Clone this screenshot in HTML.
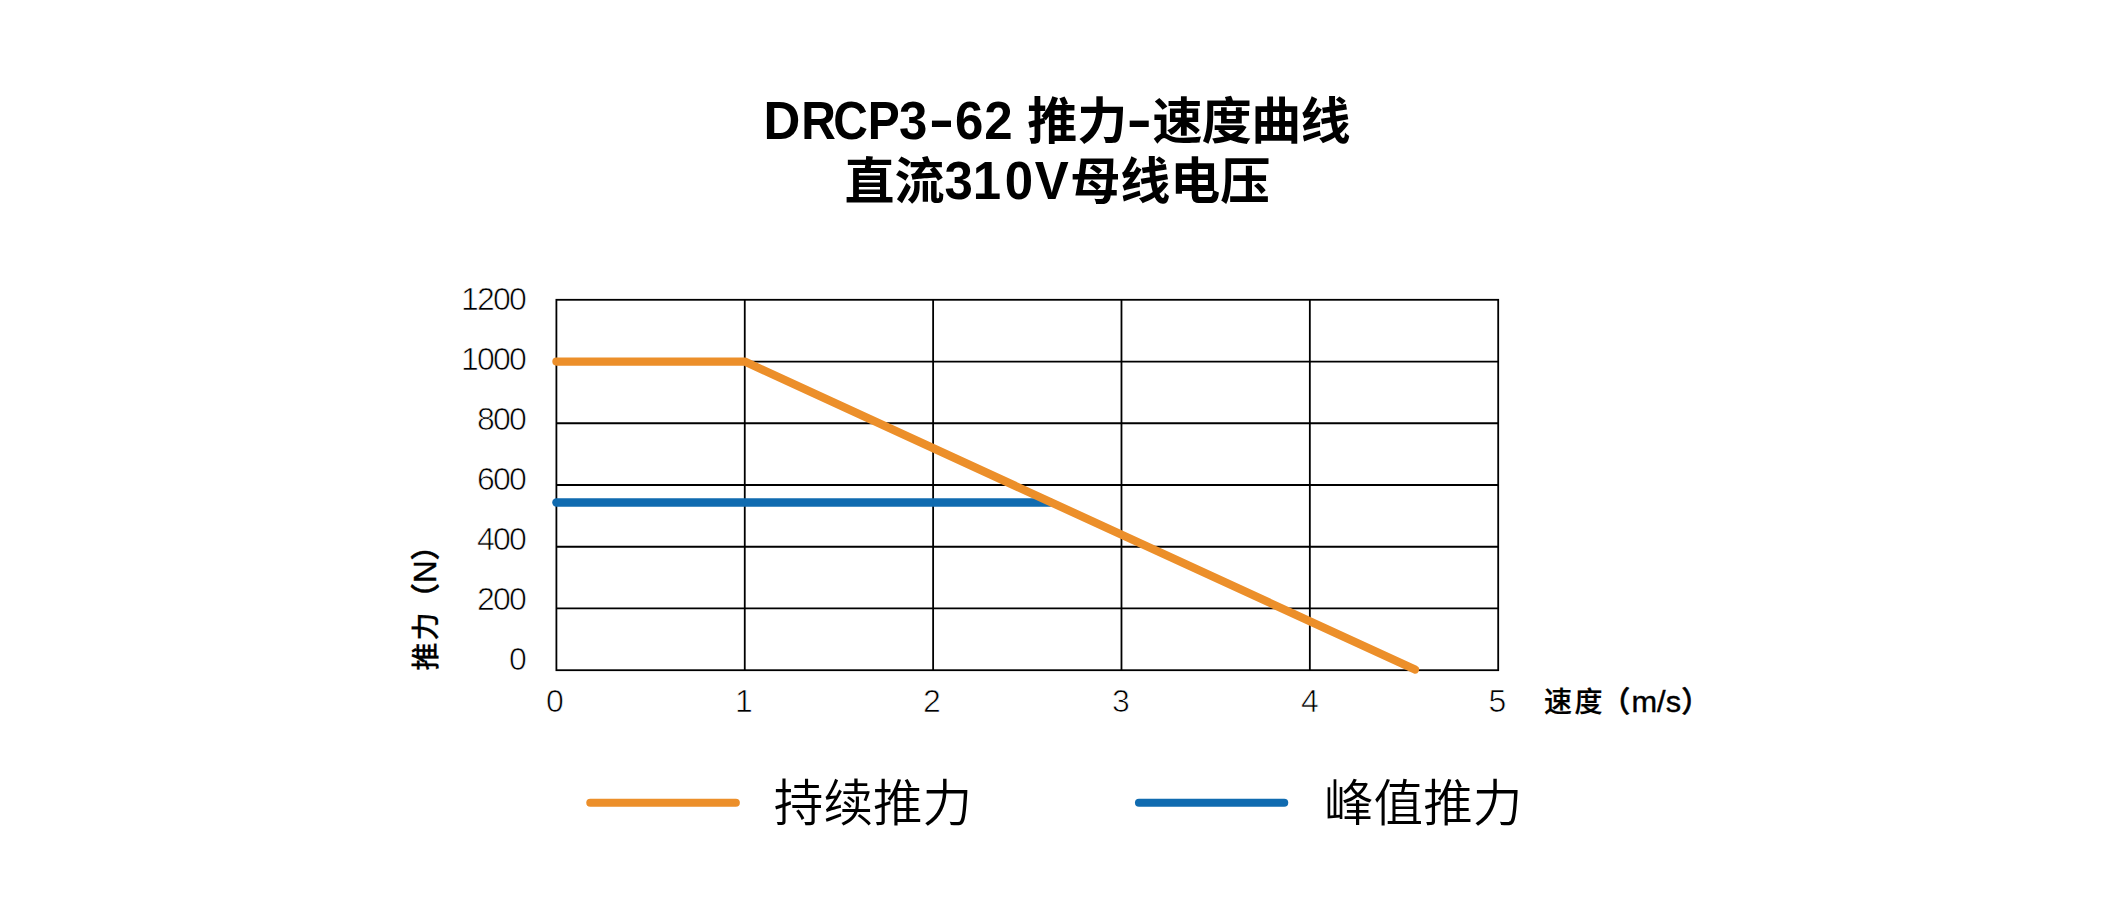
<!DOCTYPE html>
<html lang="zh-CN"><head><meta charset="utf-8"><title>DRCP3-62 推力-速度曲线</title>
<style>html,body{margin:0;padding:0;background:#fff;}body{width:2115px;height:907px;overflow:hidden;}svg{display:block;}text{font-family:"Liberation Sans", "Noto Sans CJK SC", sans-serif;fill:#000;}.t{font-weight:700;font-size:50px;}.u{font-size:53px;}.n{font-size:32px;font-weight:400;stroke:#fff;stroke-width:0.7px;}.a{font-size:28px;font-weight:500;stroke:#000;stroke-width:0.2px;}.p{font-size:29px;stroke-width:0.6px;}.b{font-size:29px;font-weight:400;stroke:#000;stroke-width:0.4px;}.c{font-size:30.5px;}.l{font-size:49.6px;font-weight:350;}</style></head><body>
<svg width="2115" height="907" viewBox="0 0 2115 907">
<rect x="0" y="0" width="2115" height="907" fill="#ffffff"/>
<text class="t" y="139"><tspan class="u" x="763.39" textLength="36.82" lengthAdjust="spacingAndGlyphs">D</tspan><tspan class="u" x="801.28" textLength="34.64" lengthAdjust="spacingAndGlyphs">R</tspan><tspan class="u" x="833.18" textLength="34.64" lengthAdjust="spacingAndGlyphs">C</tspan><tspan class="u" x="867.80" textLength="31.99" lengthAdjust="spacingAndGlyphs">P</tspan><tspan class="u" x="899.07" textLength="28.36" lengthAdjust="spacingAndGlyphs">3</tspan><tspan class="u" x="929.00" y="137.80" textLength="25.00" lengthAdjust="spacingAndGlyphs">-</tspan><tspan class="u" x="955.02" y="139.00" textLength="28.36" lengthAdjust="spacingAndGlyphs">6</tspan><tspan class="u" x="984.37" textLength="28.36" lengthAdjust="spacingAndGlyphs">2</tspan><tspan> </tspan><tspan x="1027.20" y="139.00">推力</tspan><tspan class="u" x="1126.80" y="137.80" textLength="25.00" lengthAdjust="spacingAndGlyphs">-</tspan><tspan x="1152.50" y="139.00" textLength="198.00" lengthAdjust="spacing">速度曲线</tspan></text>
<text class="t" y="199"><tspan x="844.50">直流</tspan><tspan class="u" x="944.57" textLength="28.36" lengthAdjust="spacingAndGlyphs">3</tspan><tspan class="u" x="972.77" textLength="28.36" lengthAdjust="spacingAndGlyphs">1</tspan><tspan class="u" x="1004.87" textLength="28.36" lengthAdjust="spacingAndGlyphs">0</tspan><tspan class="u" x="1034.65" textLength="34.01" lengthAdjust="spacingAndGlyphs">V</tspan><tspan x="1070.30">母线电压</tspan></text>
<path d="M744.76 299.80V670.20M933.12 299.80V670.20M1121.48 299.80V670.20M1309.84 299.80V670.20M556.40 361.53H1498.20M556.40 423.27H1498.20M556.40 485.00H1498.20M556.40 546.73H1498.20M556.40 608.47H1498.20" fill="none" stroke="#000" stroke-width="1.8"/>
<rect x="556.40" y="299.80" width="941.80" height="370.40" fill="none" stroke="#000" stroke-width="1.8"/>
<text class="n" x="461.00 477.00 493.00 509.00" y="310.40">1200</text>
<text class="n" x="461.00 477.00 493.00 509.00" y="370.40">1000</text>
<text class="n" x="477.00 493.00 509.00" y="430.40">800</text>
<text class="n" x="477.00 493.00 509.00" y="490.40">600</text>
<text class="n" x="477.00 493.00 509.00" y="550.40">400</text>
<text class="n" x="477.00 493.00 509.00" y="610.40">200</text>
<text class="n" x="509.00" y="670.40">0</text>
<text class="n" x="555.00" y="712.4" text-anchor="middle">0</text>
<text class="n" x="744.00" y="712.4" text-anchor="middle">1</text>
<text class="n" x="932.00" y="712.4" text-anchor="middle">2</text>
<text class="n" x="1121.00" y="712.4" text-anchor="middle">3</text>
<text class="n" x="1310.00" y="712.4" text-anchor="middle">4</text>
<text class="n" x="1497.30" y="712.4" text-anchor="middle">5</text>
<text class="a" y="711.5"><tspan x="1544.00" textLength="58.50" lengthAdjust="spacing">速度</tspan><tspan class="p" x="1601.30" y="712.30">（</tspan><tspan class="b" x="1631.50" y="711.80" textLength="49.50" lengthAdjust="spacingAndGlyphs">m/s</tspan><tspan class="a p" x="1681.30" y="712.30">）</tspan></text>
<text class="a" y="0" transform="translate(435.5 670.5) rotate(-90)"><tspan x="0.00" textLength="58.00" lengthAdjust="spacing">推力</tspan><tspan class="p" x="58.30" y="0.80">（</tspan><tspan class="b c" x="87.60" y="0.60" textLength="22.60" lengthAdjust="spacingAndGlyphs">N</tspan><tspan class="a p" x="110.30" y="0.80">）</tspan></text>
<path d="M556.40 502.5H1050" fill="none" stroke="#106bb0" stroke-width="8.4" stroke-linecap="round"/>
<path d="M556.40 361.6H744.76L1415 669.5" fill="none" stroke="#ec8f2a" stroke-width="8.2" stroke-linecap="round" stroke-linejoin="round"/>
<path d="M590.3 802.75H735.8" fill="none" stroke="#ec8f2a" stroke-width="8.1" stroke-linecap="round"/>
<text class="l" x="773.8" y="821.3">持续推力</text>
<path d="M1139 802.75H1284.2" fill="none" stroke="#106bb0" stroke-width="8.1" stroke-linecap="round"/>
<text class="l" x="1324" y="821.3">峰值推力</text>
</svg></body></html>
